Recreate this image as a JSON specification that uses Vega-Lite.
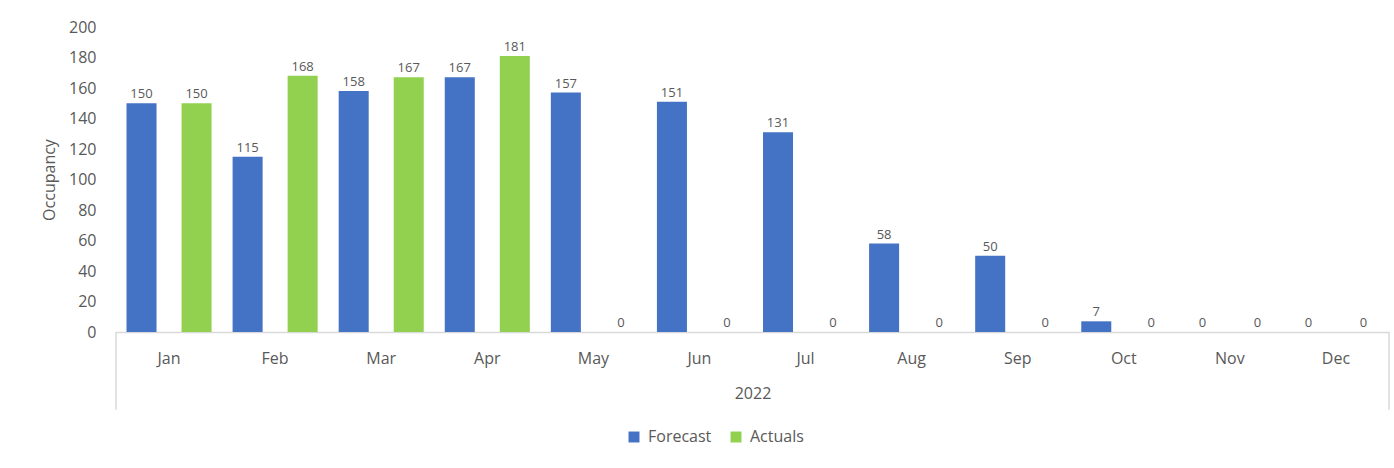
{
  "$schema": "https://vega.github.io/schema/vega-lite/v6.json",
  "width": 1273,
  "height": 305,
  "autosize": {"type": "none"},
  "padding": {"left": 116, "top": 27, "right": 5, "bottom": 136},
  "background": "white",
  "config": {"view": {"stroke": null}, "font": "Open Sans", "axisY": {"labelOverlap": false}},
  "datasets": {
    "occ": [
      {"month": "Jan", "series": "Forecast", "value": 150},
      {"month": "Jan", "series": "Actuals", "value": 150},
      {"month": "Feb", "series": "Forecast", "value": 115},
      {"month": "Feb", "series": "Actuals", "value": 168},
      {"month": "Mar", "series": "Forecast", "value": 158},
      {"month": "Mar", "series": "Actuals", "value": 167},
      {"month": "Apr", "series": "Forecast", "value": 167},
      {"month": "Apr", "series": "Actuals", "value": 181},
      {"month": "May", "series": "Forecast", "value": 157},
      {"month": "May", "series": "Actuals", "value": 0},
      {"month": "Jun", "series": "Forecast", "value": 151},
      {"month": "Jun", "series": "Actuals", "value": 0},
      {"month": "Jul", "series": "Forecast", "value": 131},
      {"month": "Jul", "series": "Actuals", "value": 0},
      {"month": "Aug", "series": "Forecast", "value": 58},
      {"month": "Aug", "series": "Actuals", "value": 0},
      {"month": "Sep", "series": "Forecast", "value": 50},
      {"month": "Sep", "series": "Actuals", "value": 0},
      {"month": "Oct", "series": "Forecast", "value": 7},
      {"month": "Oct", "series": "Actuals", "value": 0},
      {"month": "Nov", "series": "Forecast", "value": 0},
      {"month": "Nov", "series": "Actuals", "value": 0},
      {"month": "Dec", "series": "Forecast", "value": 0},
      {"month": "Dec", "series": "Actuals", "value": 0}
    ]
  },
  "encoding": {
    "x": {
      "field": "month", "type": "nominal",
      "sort": ["Jan","Feb","Mar","Apr","May","Jun","Jul","Aug","Sep","Oct","Nov","Dec"],
      "scale": {"paddingInner": 0, "paddingOuter": 0},
      "axis": {
        "title": "2022", "titleFontSize": 16, "titleFontWeight": "normal", "titleColor": "#595959", "titlePadding": 19,
        "labelAngle": 0, "labelFontSize": 16, "labelColor": "#595959", "labelPadding": 18,
        "ticks": false, "tickSize": 0, "domainColor": "#d9d9d9", "domainWidth": 1.5
      }
    },
    "y": {
      "field": "value", "type": "quantitative",
      "scale": {"domain": [0, 200], "nice": false},
      "axis": {
        "title": "Occupancy", "titleFontSize": 16, "titleFontWeight": "normal", "titleColor": "#595959", "titlePadding": 11,
        "values": [0,20,40,60,80,100,120,140,160,180,200], "labelOverlap": false,
        "labelFontSize": 16, "labelColor": "#595959", "labelPadding": 20,
        "domain": false, "ticks": false, "grid": false
      }
    }
  },
  "layer": [
    {
      "data": {"name": "occ"},
      "mark": {"type": "bar"},
      "encoding": {
        "xOffset": {
          "field": "series", "type": "nominal", "sort": ["Forecast", "Actuals"],
          "scale": {"paddingInner": 0.4545, "paddingOuter": 0.191}
        },
        "color": {
          "field": "series", "type": "nominal",
          "sort": ["Forecast", "Actuals"],
          "scale": {"domain": ["Forecast", "Actuals"], "range": ["#4472C4", "#92D050"]},
          "legend": {
            "title": null, "orient": "none", "direction": "horizontal",
            "legendX": 510, "legendY": 402,
            "symbolType": "square", "symbolSize": 120, "symbolStrokeWidth": 0,
            "labelFontSize": 16, "labelColor": "#595959", "columnPadding": 16, "labelOffset": 6
          }
        }
      }
    },
    {
      "data": {"name": "occ"},
      "mark": {"type": "text", "dy": -9, "fontSize": 13, "color": "#595959"},
      "encoding": {
        "xOffset": {"field": "series", "type": "nominal", "sort": ["Forecast", "Actuals"]},
        "text": {"field": "value", "type": "quantitative"}
      }
    },
    {
      "data": {"values": [{"month": "Jan", "value": 0}]},
      "mark": {"type": "rule", "color": "#d9d9d9", "strokeWidth": 1.5},
      "encoding": {
        "x": {"field": "month", "type": "nominal", "bandPosition": 0, "sort": ["Jan","Feb","Mar","Apr","May","Jun","Jul","Aug","Sep","Oct","Nov","Dec"]},
        "y2": {"datum": -51}
      }
    },
    {
      "data": {"values": [{"month": "Dec", "value": 0}]},
      "mark": {"type": "rule", "color": "#d9d9d9", "strokeWidth": 1.5},
      "encoding": {
        "x": {"field": "month", "type": "nominal", "bandPosition": 1, "sort": ["Jan","Feb","Mar","Apr","May","Jun","Jul","Aug","Sep","Oct","Nov","Dec"]},
        "y2": {"datum": -51}
      }
    }
  ]
}
